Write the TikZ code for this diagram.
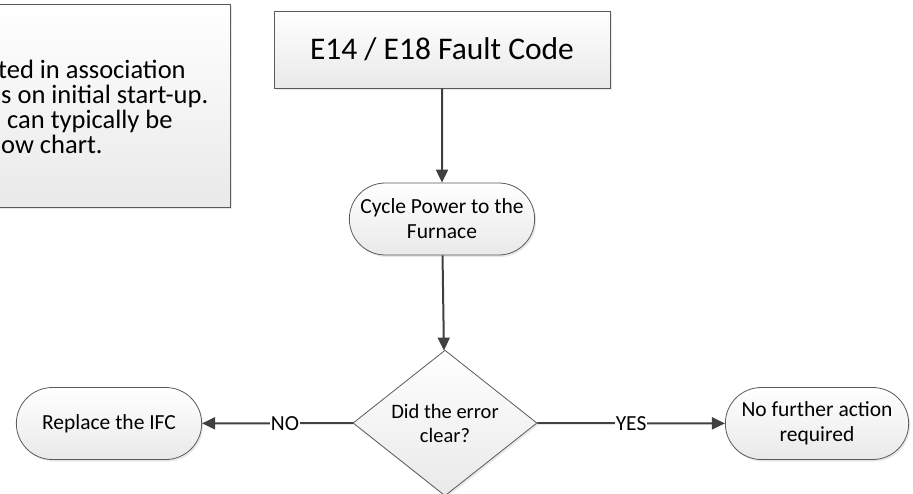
\documentclass[tikz,border=0pt]{standalone}
\usepackage{fontspec}
\setmainfont{Carlito}
\usetikzlibrary{shapes.misc,shapes.geometric,arrows.meta,shadows}
\definecolor{linegray}{HTML}{404040}
\definecolor{edgegray}{HTML}{5A5A5A}
\definecolor{fadegray}{HTML}{E9E9E9}
\tikzset{
  shaded box/.style={draw=edgegray, line width=0.8pt, top color=white, bottom color=fadegray,
    drop shadow={opacity=0.18, shadow xshift=1.5pt, shadow yshift=-2pt}},
  pill/.style={shaded box, rounded rectangle, minimum width=192pt, minimum height=72pt,
    align=center, font=\fontsize{21.5}{25}\selectfont},
  note line/.style={anchor=base west, inner sep=0pt, font=\fontsize{26.5}{25}\selectfont},
  flow/.style={draw=linegray, line width=2pt, -{Triangle[length=13pt,width=12pt]}, color=linegray},
  answer/.style={fill=white, inner sep=1pt, text=black, font=\fontsize{21.5}{25}\selectfont}
}
\begin{document}
\begin{tikzpicture}[x=1pt,y=-1pt]
\clip (0,0) rectangle (913,493);
% note box, cut by the left edge
\node[shaded box, minimum width=250pt, minimum height=203pt, inner sep=0pt] (note) at (105,105.5) {};
\node[note line] (noteA) at (-2,78) {ted in association};
\node[note line] (noteB) at (1,103) {s on initial start-up.};
\node[note line] (noteC) at (7,128) {can typically be};
\node[note line] (noteD) at (1,153) {ow chart.};
% flow
\node[shaded box, minimum width=336pt, minimum height=77pt, font=\fontsize{31.5}{37}\selectfont] (code) at (442,49.5) {E14 / E18 Fault Code};
\node[pill] (cycle) at (442,219) {Cycle Power to the\\Furnace};
\node[shaded box, diamond, minimum width=184pt, minimum height=142pt, inner sep=0pt,
  align=center, font=\fontsize{20.5}{24}\selectfont] (clear) at (445,423) {Did the error\\clear?};
\node[pill] (ifc) at (109,423.5) {Replace the IFC};
\node[pill, minimum width=190pt] (done) at (817,423.5) {No further action\\required};
\draw[flow] (code) -- (cycle);
\draw[flow] (cycle) -- (clear);
\draw[flow] (clear) -- node[answer, pos=0.45] {NO} (ifc);
\draw[flow] (clear) -- node[answer] {YES} (done);
\end{tikzpicture}
\end{document}
